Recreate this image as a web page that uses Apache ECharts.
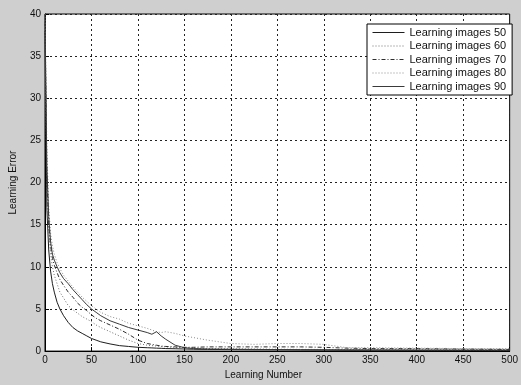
<!DOCTYPE html>
<html><head><meta charset="utf-8">
<script src="https://cdn.jsdelivr.net/npm/echarts@6/dist/echarts.min.js"></script>
<style>html,body{margin:0;padding:0;background:#cfcfcf}#c{width:521px;height:385px}</style>
</head><body><div id="c"></div>
<script>
const xs = [0,2,4,6,8,10,13,16,20,25,30,35,40,45,50,55,60,70,80,90,100,110,115,120,125,130,140,150,160,175,200,225,250,275,300,325,350,400,450,500];
const names = ['Learning images 50','Learning images 60','Learning images 70','Learning images 80','Learning images 90'];
const err50 = [38,17,12,9.5,8,7,5.8,5,4.2,3.4,2.8,2.4,2.1,1.8,1.5,1.3,1.1,0.85,0.65,0.55,0.45,0.4,0.38,0.35,0.33,0.3,0.28,0.25,0.22,0.2,0.18,0.16,0.15,0.13,0.12,0.1,0.1,0.08,0.07,0.06];
const err60 = [39,19,14,11.5,10,9,8,7,6.3,5.4,4.9,4.5,4.1,3.8,3.5,3.1,2.8,2.3,1.8,1.3,0.9,0.7,0.65,0.6,0.55,0.5,0.45,0.4,0.35,0.3,0.28,0.25,0.22,0.2,0.2,0.18,0.17,0.16,0.15,0.15];
const err70 = [39,21,15,12.5,11,10.2,9.3,8.5,7.8,7,6.4,5.7,5.2,4.8,4.3,3.9,3.6,3.1,2.6,2.0,1.3,0.9,0.8,0.7,0.6,0.55,0.5,0.45,0.45,0.5,0.5,0.5,0.5,0.5,0.45,0.35,0.3,0.3,0.25,0.2];
const err80 = [40,24,17,14,12.5,11.5,10.5,9.8,9,8.3,7.6,7,6.4,5.9,5.4,5.0,4.6,4.1,3.8,3.3,3.0,2.7,2.5,2.3,2.2,2.3,2.1,1.8,1.6,1.3,0.9,0.8,0.9,0.9,0.8,0.4,0.4,0.35,0.3,0.3];
const err90 = [40,22,16,13,11.5,10.8,10,9.3,8.6,8,7.3,6.7,6.1,5.5,5.0,4.6,4.2,3.6,3.2,2.8,2.5,2.2,2.0,2.3,1.8,1.4,0.7,0.4,0.3,0.25,0.22,0.2,0.18,0.17,0.16,0.15,0.14,0.13,0.12,0.12];
const xTicks = [0,50,100,150,200,250,300,350,400,450,500];
const yTicks = [0,5,10,15,20,25,30,35,40];

const seriesVals = [err50, err60, err70, err80, err90];
const styles = [
  {color:'#1e1e1e', type:'solid'},
  {color:'#707070', type:[1,2]},
  {color:'#2e2e2e', type:[4,2,1,2]},
  {color:'#8a8a8a', type:[1,2]},
  {color:'#3a3a3a', type:'solid'}
];
const font = 'Liberation Sans, Arial, sans-serif';
const chart = echarts.init(document.getElementById('c'), null, {renderer:'canvas'});
chart.setOption({
  backgroundColor:'#cfcfcf',
  animation:false,
  grid:{left:41, right:8, top:14, bottom:29, show:true, backgroundColor:'#fff', borderColor:'#000', borderWidth:1},
  legend:{
    data:names, orient:'vertical', left:367, top:24,
    backgroundColor:'#fff', borderColor:'#000', borderWidth:1, borderRadius:0,
    padding:[3,6,3,5], itemGap:2.5, itemWidth:32, itemHeight:11,
    itemStyle:{color:'rgba(0,0,0,0)', borderWidth:0, opacity:0},
    lineStyle:{width:1},
    textStyle:{fontFamily:font, fontSize:11, color:'#111'}
  },
  xAxis:{
    type:'value', min:0, max:500, interval:50,
    name:'Learning Number', nameLocation:'middle', nameGap:16,
    nameTextStyle:{fontFamily:font, fontSize:10, color:'#111', padding:[0,28,0,0]},
    axisLine:{lineStyle:{color:'#000'}},
    axisTick:{inside:true, length:4, lineStyle:{color:'#000'}},
    axisLabel:{fontFamily:font, fontSize:10, color:'#111', margin:4, formatter:v=>xTicks.includes(v)?String(v):''},
    splitLine:{show:true, lineStyle:{color:'#222', type:[2,3], width:1}}
  },
  yAxis:{
    type:'value', min:0, max:40, interval:5,
    name:'Learning Error', nameLocation:'middle', nameGap:27,
    nameTextStyle:{fontFamily:font, fontSize:10, color:'#111'},
    axisLine:{lineStyle:{color:'#000'}},
    axisTick:{inside:true, length:4, lineStyle:{color:'#000'}},
    axisLabel:{fontFamily:font, fontSize:10, color:'#111', margin:4, formatter:v=>yTicks.includes(v)?String(v):''},
    splitLine:{show:true, lineStyle:{color:'#222', type:[2,3], width:1}}
  },
  series: seriesVals.map((vals,i)=>({
    name:names[i], type:'line', symbol:'none', smooth:false,
    data: xs.map((x,j)=>[x, vals[j]]),
    lineStyle:{color:styles[i].color, type:styles[i].type, width:1},
    itemStyle:{color:styles[i].color}
  }))
});
</script></body></html>
